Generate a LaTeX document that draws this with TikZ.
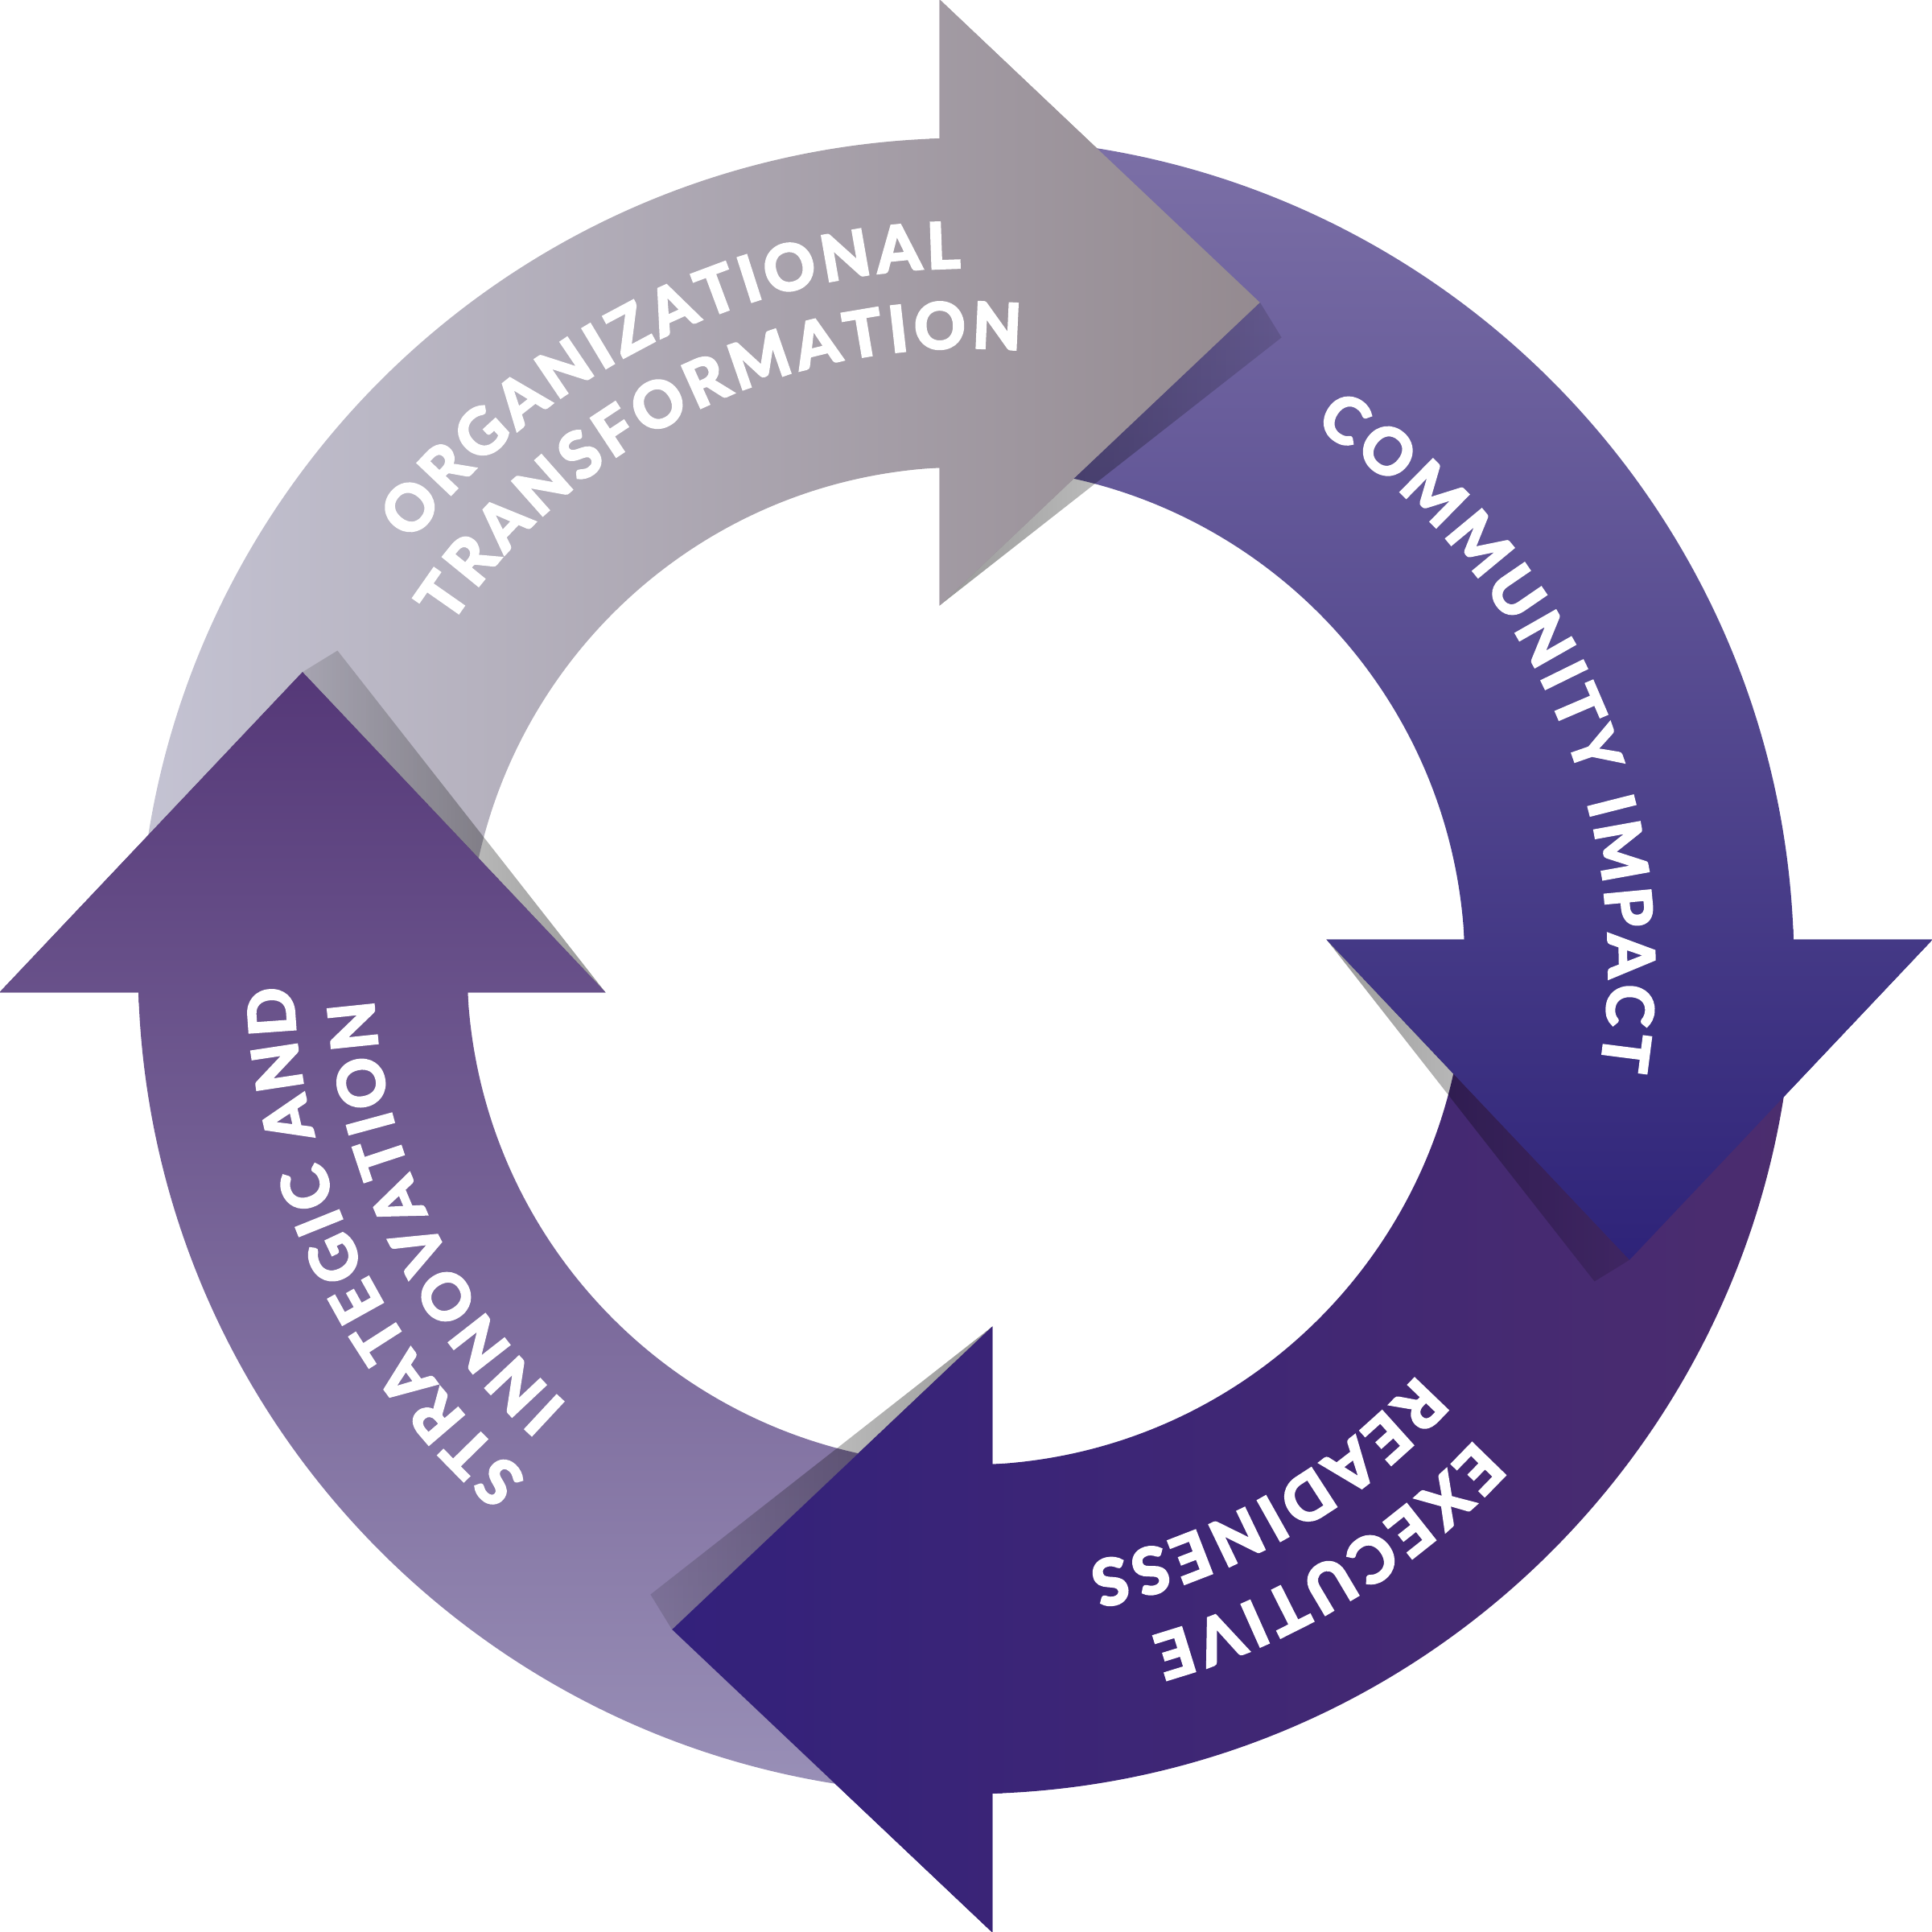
\documentclass[tikz,border=0pt]{standalone}
\usepackage{fontspec}
\newfontfamily\ringfont{Lato Bold}[FakeBold=4]
\usetikzlibrary{decorations.text,fadings}

\definecolor{orgleft}{HTML}{C5C4D4}
\definecolor{orgright}{HTML}{948A90}
\definecolor{comtop}{HTML}{7D71A7}
\definecolor{combottom}{HTML}{2E2379}
\definecolor{exeright}{HTML}{4C2D6E}
\definecolor{exeleft}{HTML}{33217B}
\definecolor{strbottom}{HTML}{9A91B8}
\definecolor{strtop}{HTML}{553878}

\tikzfading[name=shadowfade, left color=transparent!60, right color=transparent!88]

\tikzset{
  arctext/.style={decorate, decoration={text along path, text align=center, text color=white,
      text={|\ringfont\fontsize{14.6}{16}\selectfont\kern1.25pt|#1}}},
  headshadow/.style={fill=black, path fading=shadowfade}
}

\begin{document}
\begin{tikzpicture}
    \useasboundingbox (-7.84,-7.84) rectangle (7.84,7.84);

    % 1. organizational transformation
    \shade[left color=orgleft, right color=orgright]
        (181.833:6.72) arc[start angle=181.833, end angle=91.833, radius=6.72]
        -- (-0.215,7.845) -- (2.385,5.385) -- (-0.215,2.925)
        -- (93.043:4.05) arc[start angle=93.043, end angle=183.043, radius=4.05] -- cycle;

    % 2. community impact
    \shade[top color=comtop, bottom color=combottom]
        (91.833:6.72) arc[start angle=91.833, end angle=1.833, radius=6.72]
        -- (7.845,0.215) -- (5.385,-2.385) -- (2.925,0.215)
        -- (3.043:4.05) arc[start angle=3.043, end angle=93.043, radius=4.05] -- cycle;

    % 3. executive readiness
    \shade[left color=exeleft, right color=exeright]
        (1.833:6.72) arc[start angle=1.833, end angle=-88.167, radius=6.72]
        -- (0.215,-7.845) -- (-2.385,-5.385) -- (0.215,-2.925)
        -- (-86.957:4.05) arc[start angle=-86.957, end angle=3.043, radius=4.05] -- cycle;

    % 4. strategic and innovation
    \shade[top color=strtop, bottom color=strbottom]
        (-88.167:6.72) arc[start angle=-88.167, end angle=-178.167, radius=6.72]
        -- (-7.845,-0.215) -- (-5.385,2.385) -- (-2.925,-0.215)
        -- (-176.957:4.05) arc[start angle=-176.957, end angle=-86.957, radius=4.05] -- cycle;

    % shadows under the heads
    \fill[headshadow] (2.385,5.385) -- (2.56,5.10) -- (-0.215,2.925) -- cycle;
    \fill[headshadow] (5.385,-2.385) -- (5.10,-2.56) -- (2.925,0.215) -- cycle;
    \fill[headshadow, fading angle=180] (-2.385,-5.385) -- (-2.56,-5.10) -- (0.215,-2.925) -- cycle;
    \fill[headshadow, fading angle=180] (-5.385,2.385) -- (-5.10,2.56) -- (-2.925,-0.215) -- cycle;

    % heads again, on top of the next arrow
    \begin{scope}
    \clip (-0.3,2.8) rectangle (2.5,7.9);
    \shade[left color=orgleft, right color=orgright]
        (181.833:6.72) arc[start angle=181.833, end angle=91.833, radius=6.72]
        -- (-0.215,7.845) -- (2.385,5.385) -- (-0.215,2.925)
        -- (93.043:4.05) arc[start angle=93.043, end angle=183.043, radius=4.05] -- cycle;
    \end{scope}

    \begin{scope}
    \clip (2.8,-2.5) rectangle (7.9,0.3);
    \shade[top color=comtop, bottom color=combottom]
        (91.833:6.72) arc[start angle=91.833, end angle=1.833, radius=6.72]
        -- (7.845,0.215) -- (5.385,-2.385) -- (2.925,0.215)
        -- (3.043:4.05) arc[start angle=3.043, end angle=93.043, radius=4.05] -- cycle;
    \end{scope}

    \begin{scope}
    \clip (-2.5,-7.9) rectangle (0.3,-2.8);
    \shade[left color=exeleft, right color=exeright]
        (1.833:6.72) arc[start angle=1.833, end angle=-88.167, radius=6.72]
        -- (0.215,-7.845) -- (-2.385,-5.385) -- (0.215,-2.925)
        -- (-86.957:4.05) arc[start angle=-86.957, end angle=3.043, radius=4.05] -- cycle;
    \end{scope}

    \begin{scope}
    \clip (-7.9,-0.3) rectangle (-2.8,2.5);
    \shade[top color=strtop, bottom color=strbottom]
        (-88.167:6.72) arc[start angle=-88.167, end angle=-178.167, radius=6.72]
        -- (-7.845,-0.215) -- (-5.385,2.385) -- (-2.925,-0.215)
        -- (-176.957:4.05) arc[start angle=-176.957, end angle=-86.957, radius=4.05] -- cycle;
    \end{scope}

    % texts along the ring
    \path[arctext=ORGANIZATIONAL] (161.75:5.665) arc[start angle=161.75, end angle=71.75, radius=5.665];
    \path[arctext=TRANSFORMATION] (161:5.015) arc[start angle=161, end angle=71, radius=5.015];
    \path[arctext=COMMUNITY IMPACT] (69.25:5.215) arc[start angle=69.25, end angle=-20.75, radius=5.215];
    \path[arctext=EXECUTIVE] (-13.5:5.645) arc[start angle=-13.5, end angle=-103.5, radius=5.645];
    \path[arctext=READINESS] (-15:4.945) arc[start angle=-15, end angle=-105, radius=4.945];
    \path[arctext=STRATEGIC AND] (250.75:5.465) arc[start angle=250.75, end angle=160.75, radius=5.465];
    \path[arctext=INNOVATION] (250.75:4.815) arc[start angle=250.75, end angle=160.75, radius=4.815];
\end{tikzpicture}
\end{document}
